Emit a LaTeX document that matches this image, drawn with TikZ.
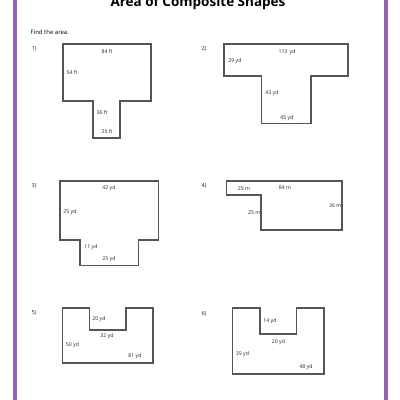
\documentclass[tikz,border=0pt]{standalone}
\usepackage{fontspec}
\setmainfont{Open Sans}
\definecolor{framepurple}{RGB}{150,98,178}
\definecolor{shapegray}{RGB}{85,85,85}
\tikzset{
  shapeline/.style={draw=shapegray, line width=1.1pt, line join=miter},
  lbl/.style={font=\fontsize{5.2}{6}\selectfont, inner sep=0pt, text=black!85},
  num/.style={font=\fontsize{5.6}{7}\selectfont, inner sep=0pt, text=black!85},
}
\begin{document}
\begin{tikzpicture}[x=1pt,y=-1pt]
\useasboundingbox (0,0) rectangle (400,400);
\clip (0,0) rectangle (400,400);
\fill[white] (0,0) rectangle (400,400);
% frame
\draw[framepurple, line width=4pt] (15,-5) -- (15,405);
\draw[framepurple, line width=4pt] (386,-5) -- (386,405);
% title
\node[font=\bfseries\fontsize{13.5}{16}\selectfont, anchor=base, inner sep=0pt] (title) at (198,6.5) {Area of Composite Shapes};
\node[font=\fontsize{6}{7}\selectfont, anchor=west, inner sep=0pt] (find) at (30.5,32) {Find the area.};
% shape 1
\node[num] (n1) at (34,49) {1)};
\draw[shapeline] (63,44) -- (151,44) -- (151,101) -- (120,101) -- (120,138) -- (93,138) -- (93,101) -- (63,101) -- cycle;
\node[lbl] (a1) at (107,52) {84 ft};
\node[lbl] (b1) at (72,73) {54 ft};
\node[lbl] (c1) at (102,113) {36 ft};
\node[lbl] (d1) at (107,132) {25 ft};
% shape 2
\node[num] (n2) at (204,49) {2)};
\draw[shapeline] (224,44) -- (348,44) -- (348,76) -- (311,76) -- (311,123.5) -- (261.5,123.5) -- (261.5,76) -- (224,76) -- cycle;
\node[lbl] (a2) at (287,52) {113\, yd};
\node[lbl] (b2) at (235,61) {29 yd};
\node[lbl] (c2) at (272,93) {43 yd};
\node[lbl] (d2) at (287,118) {45 yd};
% shape 3
\node[num] (n3) at (34,186) {3)};
\draw[shapeline] (60,181) -- (158.5,181) -- (158.5,240) -- (138.5,240) -- (138.5,265.5) -- (80,265.5) -- (80,240) -- (60,240) -- cycle;
\node[lbl] (a3) at (109,188) {42 yd};
\node[lbl] (b3) at (70,212) {25 yd};
\node[lbl] (c3) at (91,247) {11 yd};
\node[lbl] (d3) at (109,259) {25 yd};
% shape 4
\node[num] (n4) at (204,186) {4)};
\draw[shapeline] (226.5,181) -- (342,181) -- (342,230) -- (261,230) -- (261,195) -- (226.5,195) -- cycle;
\node[lbl] (a4) at (244,189) {25 m};
\node[lbl] (b4) at (285,188) {84 m};
\node[lbl, anchor=east] (c4) at (341.5,205.5) {36 m};
\node[lbl, anchor=east] (d4) at (260.5,213) {25 m};
% shape 5
\node[num] (n5) at (34,313) {5)};
\draw[shapeline] (62.5,308) -- (89.5,308) -- (89.5,330) -- (126,330) -- (126,308) -- (153,308) -- (153,363) -- (62.5,363) -- cycle;
\node[lbl] (a5) at (99,319) {20 yd};
\node[lbl] (b5) at (107,336.5) {32 yd};
\node[lbl] (c5) at (72.5,345.5) {50 yd};
\node[lbl] (d5) at (135,356.5) {81 yd};
% shape 6
\node[num] (n6) at (204,314) {6)};
\draw[shapeline] (232.5,308) -- (260,308) -- (260,334) -- (296.5,334) -- (296.5,308) -- (324,308) -- (324,374) -- (232.5,374) -- cycle;
\node[lbl] (a6) at (270,321.5) {14 yd};
\node[lbl] (b6) at (278.5,342) {20 yd};
\node[lbl] (c6) at (242.5,354) {35 yd};
\node[lbl] (d6) at (306,367.5) {48 yd};
\end{tikzpicture}
\end{document}
